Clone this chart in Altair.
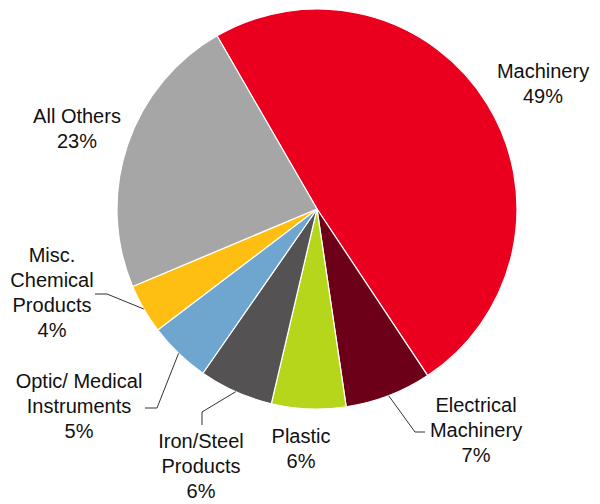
import math
import altair as alt
import pandas as pd

# ---- data ----
categories = ["Machinery", "Electrical Machinery", "Plastic", "Iron/Steel Products",
              "Optic/ Medical Instruments", "Misc. Chemical Products", "All Others"]
label_lines = ["Machinery", "Electrical\nMachinery", "Plastic", "Iron/Steel\nProducts",
               "Optic/ Medical\nInstruments", "Misc.\nChemical\nProducts", "All Others"]
shares = [49, 7, 6, 6, 5, 4, 23]
colors = ["#EA001E", "#6C0019", "#B5D61A", "#545253", "#6FA6CF", "#FFBF12", "#A6A6A6"]

# ---- layout (page pixel coordinates; y = centre of first text line) ----
MARGIN = 8
CX, CY, R = 317, 209, 200
START_DEG = -30
label_pos = [(543, 72), (476, 406), (301, 437), (201, 442), (79, 382), (52, 256), (77, 117)]
# leader lines: category index -> (elbow, end)
leaders = {1: [(415, 432), (425, 432)],
           3: [(202, 412), (202, 425)],
           4: [(157, 408), (145, 408)],
           5: [(107, 294), (95, 294)]}

W, H = 584, 496
cx, cy = CX - MARGIN, CY - MARGIN
a0 = math.radians(START_DEG)

pie_df = pd.DataFrame({"cat": categories, "value": shares, "idx": list(range(len(shares)))})

labels = [l + "\n" + f"{v}%" for l, v in zip(label_lines, shares)]
lab_df = pd.DataFrame({
    "text": labels,
    "x": [p[0] - MARGIN for p in label_pos],
    "y": [p[1] - MARGIN for p in label_pos],
})

# leader line points; start derived from slice mid-angle on the rim
rows = []
total = sum(shares)
cum = 0
mids = []
for v in shares:
    mids.append(START_DEG + 360 * (cum + v / 2) / total)
    cum += v
for i, pts in leaders.items():
    th = math.radians(mids[i])
    sx = cx + R * math.sin(th)
    sy = cy - R * math.cos(th)
    seq = [(sx, sy)] + [(p[0] - MARGIN, p[1] - MARGIN) for p in pts]
    for k, (x, y) in enumerate(seq):
        rows.append({"id": i, "k": k, "x": x, "y": y})
lead_df = pd.DataFrame(rows)

pie = alt.Chart(pie_df).mark_arc(radius=R, stroke="white", strokeWidth=1.2).encode(
    theta=alt.Theta("value:Q", stack=True,
                    scale=alt.Scale(domain=[0, total], range=[a0, a0 + 2 * math.pi])),
    color=alt.Color("cat:N", scale=alt.Scale(domain=categories, range=colors), legend=None),
    order=alt.Order("idx:Q"),
    x=alt.value(cx),
    y=alt.value(cy),
)

lines = alt.Chart(lead_df).mark_line(color="#333333", strokeWidth=1).encode(
    x=alt.X("x:Q", scale=None, axis=None),
    y=alt.Y("y:Q", scale=None, axis=None),
    detail="id:N",
    order="k:Q",
)

text = alt.Chart(lab_df).mark_text(
    font="Liberation Sans", fontSize=20, lineBreak="\n", lineHeight=25,
    align="center", baseline="middle", color="#111111"
).encode(
    x=alt.X("x:Q", scale=None, axis=None),
    y=alt.Y("y:Q", scale=None, axis=None),
    text="text:N",
)

chart = alt.layer(pie, lines, text).properties(
    width=W, height=H, autosize=alt.AutoSizeParams(type="none"), padding=0,
).configure_view(stroke=None, strokeWidth=0, fill=None).configure_axis(
    disable=True
)

chart.save("out.html", embed_options={"renderer": "svg", "actions": False})
